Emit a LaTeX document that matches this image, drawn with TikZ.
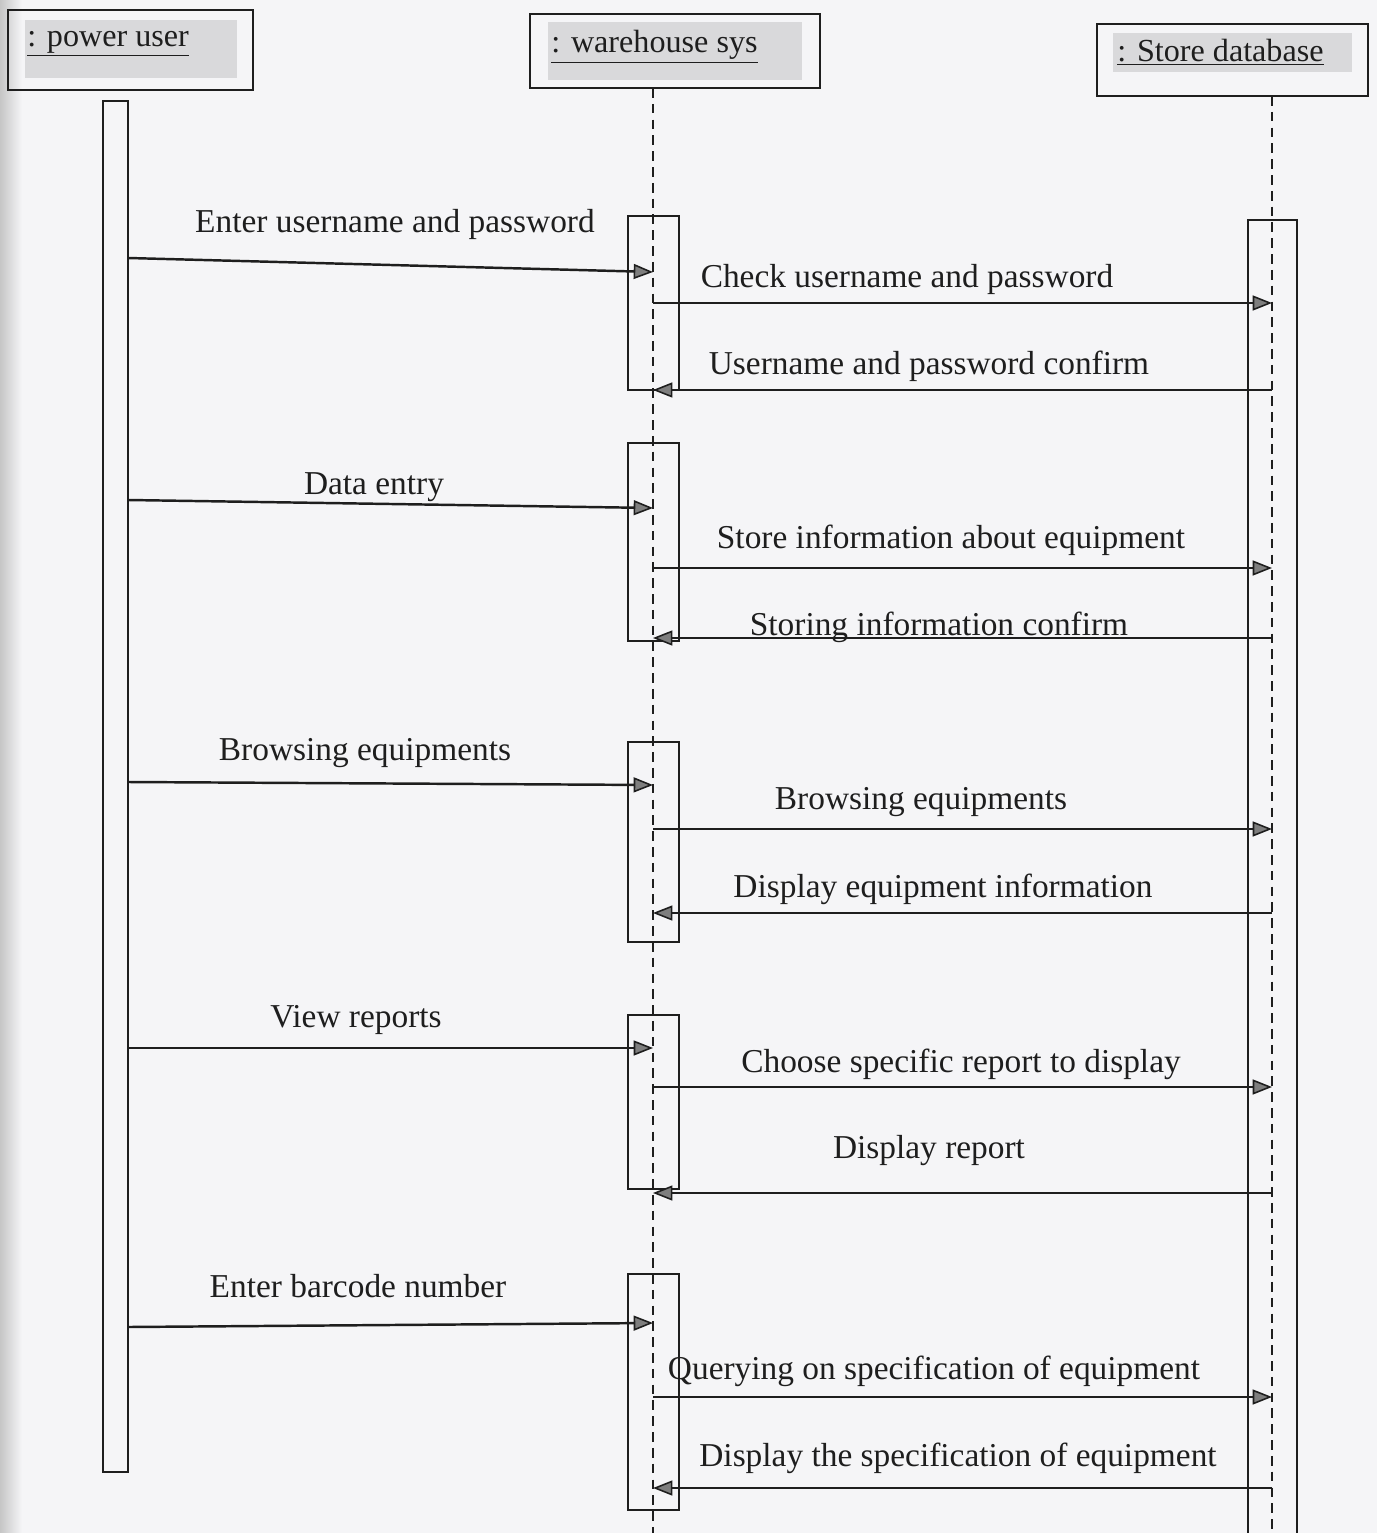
\documentclass[tikz,border=0pt]{standalone}
\usepackage{fontspec}
\setmainfont{Liberation Serif}
\usetikzlibrary{arrows.meta}
\definecolor{ink}{HTML}{1E1E1E}
\definecolor{hdrgray}{HTML}{D9D9DB}
\definecolor{paper}{HTML}{F5F5F7}
\definecolor{tipgray}{HTML}{7E7E7E}
\newcommand{\hdrul}[1]{\underline{#1}}
\begin{document}
\begin{tikzpicture}[x=0.02cm,y=-0.02cm,
  box/.style={draw=ink,line width=1.5pt,fill=none,inner sep=0pt},
  hdrfill/.style={fill=hdrgray,draw=none,inner sep=0pt},
  hdrtext/.style={font=\fontsize{18.3}{22}\selectfont,text=ink,inner sep=0pt,anchor=west},
  lifeline/.style={draw=ink,line width=1.5pt,dash pattern=on 5.5pt off 3.5pt},
  actbar/.style={draw=ink,line width=1.5pt,fill=none},
  msg/.style={draw=ink,line width=1.4pt,-{Triangle[length=11pt,width=8.5pt,fill=tipgray,line width=0.9pt]}},
  lbl/.style={font=\fontsize{19}{22}\selectfont,text=ink,inner sep=0pt}]
\useasboundingbox (0,0) rectangle (1377,1533);
\fill[paper] (0,0) rectangle (1377,1533);
\shade[left color=gray!45,right color=paper] (0,0) rectangle (22,1533);

% headers
\node[hdrfill,minimum width=4.24cm,minimum height=1.16cm] (pug) at (131,49) {};
\node[box,minimum width=4.9cm,minimum height=1.6cm] (pu) at (130.5,50) {};
\node[hdrtext] (put) at (27,44) {\hdrul{: power user}};

\node[hdrfill,minimum width=5.08cm,minimum height=1.16cm] (whg) at (675,51) {};
\node[box,minimum width=5.8cm,minimum height=1.48cm] (wh) at (675,51) {};
\node[hdrtext] (wht) at (551,47) {\hdrul{: warehouse sys}};

\node[hdrfill,minimum width=4.78cm,minimum height=0.78cm] (dbg) at (1232.5,52.5) {};
\node[box,minimum width=5.42cm,minimum height=1.44cm] (db) at (1232.5,60) {};
\node[hdrtext] (dbt) at (1117,52) {\hdrul{: Store database}};

% lifelines
\coordinate (whtop) at (653,88);
\coordinate (whbot) at (653,1533);
\coordinate (dbtop) at (1272,96);
\coordinate (dbbot) at (1272,1533);
\draw[lifeline] (whtop) -- (whbot);
\draw[lifeline] (dbtop) -- (dbbot);

% activation bars
\draw[actbar] (103,101) rectangle (128,1472);
\draw[actbar] (628,216) rectangle (679,390);
\draw[actbar] (628,443) rectangle (679,641);
\draw[actbar] (628,742) rectangle (679,942);
\draw[actbar] (628,1015) rectangle (679,1189);
\draw[actbar] (628,1274) rectangle (679,1510);
\draw[actbar] (1248,1540) -- (1248,220) -- (1297,220) -- (1297,1540);

% message end points
\coordinate (a1) at (128,258);  \coordinate (b1) at (653,272);
\coordinate (a2) at (653,303);  \coordinate (b2) at (1272,303);
\coordinate (a3) at (1272,390); \coordinate (b3) at (653,390);
\coordinate (a4) at (128,500);  \coordinate (b4) at (653,508);
\coordinate (a5) at (653,568);  \coordinate (b5) at (1272,568);
\coordinate (a6) at (1272,638); \coordinate (b6) at (653,638);
\coordinate (a7) at (128,782);  \coordinate (b7) at (653,785);
\coordinate (a8) at (653,829);  \coordinate (b8) at (1272,829);
\coordinate (a9) at (1272,913); \coordinate (b9) at (653,913);
\coordinate (a10) at (128,1048); \coordinate (b10) at (653,1048);
\coordinate (a11) at (653,1087); \coordinate (b11) at (1272,1087);
\coordinate (a12) at (1272,1193); \coordinate (b12) at (653,1193);
\coordinate (a13) at (128,1327); \coordinate (b13) at (653,1323);
\coordinate (a14) at (653,1397); \coordinate (b14) at (1272,1397);
\coordinate (a15) at (1272,1488); \coordinate (b15) at (653,1488);

\foreach \i in {1,...,15} { \draw[msg] (a\i) -- (b\i); }

% labels
\node[lbl] (l1) at (395,224) {Enter username and password};
\node[lbl] (l2) at (907,279) {Check username and password};
\node[lbl] (l3) at (929,366) {Username and password confirm};
\node[lbl] (l4) at (374,487) {Data entry};
\node[lbl] (l5) at (951,540) {Store information about equipment};
\node[lbl] (l6) at (939,627) {Storing information confirm};
\node[lbl] (l7) at (365,753) {Browsing equipments};
\node[lbl] (l8) at (921,802) {Browsing equipments};
\node[lbl] (l9) at (943,889) {Display equipment information};
\node[lbl] (l10) at (356,1020) {View reports};
\node[lbl] (l11) at (961,1064) {Choose specific report to display};
\node[lbl] (l12) at (929,1151) {Display report};
\node[lbl] (l13) at (358,1286) {Enter barcode number};
\node[lbl] (l14) at (934,1371) {Querying on specification of equipment};
\node[lbl] (l15) at (958,1458) {Display the specification of equipment};
\end{tikzpicture}
\end{document}
